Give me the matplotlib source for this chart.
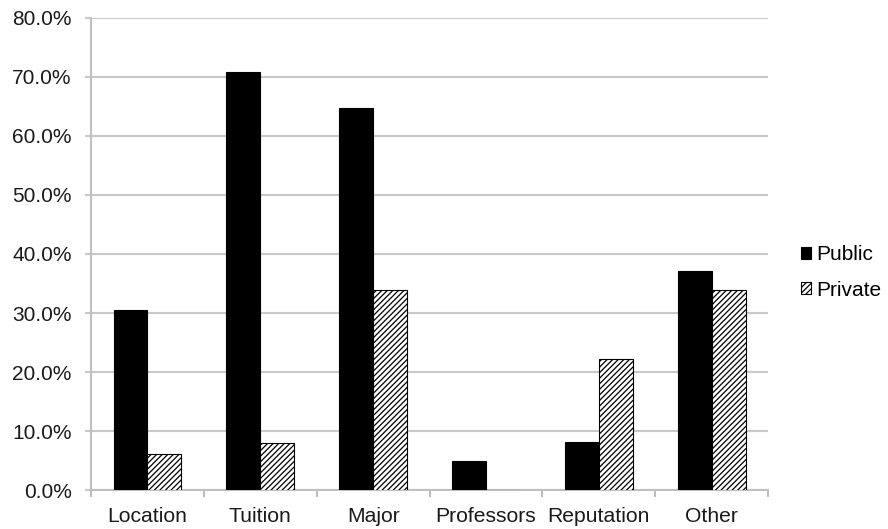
import numpy as np
import matplotlib.pyplot as plt
from matplotlib.ticker import FuncFormatter

categories = ["Location", "Tuition", "Major", "Professors", "Reputation", "Other"]
public = [30.5, 70.9, 64.7, 5.0, 8.1, 37.1]
private = [6.1, 8.0, 33.9, 0.0, 22.2, 33.9]

plt.rcParams['font.family'] = ['Liberation Sans', 'DejaVu Sans']
plt.rcParams['hatch.linewidth'] = 0.9

fig = plt.figure(figsize=(8.88, 5.29), dpi=100)
ax = fig.add_axes([0.1025, 0.0737, 0.7625, 0.8923])

x = np.arange(len(categories))
w = 0.3
ax.bar(x - w / 2, public, w, color='black', edgecolor='black', linewidth=0.8, label='Public', zorder=3)
ax.bar(x + w / 2, private, w, color='white', edgecolor='black', hatch='//////',
       linewidth=0.8, label='Private', zorder=3)

ax.set_xlim(-0.5, len(categories) - 0.5)
ax.set_ylim(0, 80)
ax.set_yticks(np.arange(0, 81, 10))
ax.yaxis.set_major_formatter(FuncFormatter(lambda v, p: f"{v:.1f}%"))
ax.yaxis.grid(True, color='#c8c8c8', linewidth=1.5, zorder=0)
ax.set_axisbelow(True)

ax.set_xticks(x)
ax.set_xticklabels(categories)
ax.set_xticks(np.arange(-0.5, len(categories), 1), minor=True)
ax.tick_params(axis='x', which='major', length=0, labelsize=15.2, pad=12, labelcolor='#1a1a1a')
ax.tick_params(axis='x', which='minor', length=5, color='#b0b0b0', width=1.2)
ax.tick_params(axis='y', length=4, color='#c8c8c8', width=1.5, labelsize=15,
               labelcolor='#1a1a1a', pad=10)

for s in ['top', 'right']:
    ax.spines[s].set_visible(False)
for s in ['left', 'bottom']:
    ax.spines[s].set_color('#c0c0c0')
    ax.spines[s].set_linewidth(1.5)

leg = fig.legend(loc='center left', bbox_to_anchor=(0.902, 0.485), frameon=False,
                 fontsize=15, handlelength=0.5, handleheight=0.5, handletextpad=0.25,
                 labelspacing=0.8, borderpad=0, borderaxespad=0)

fig.savefig('out.png', dpi=100)
